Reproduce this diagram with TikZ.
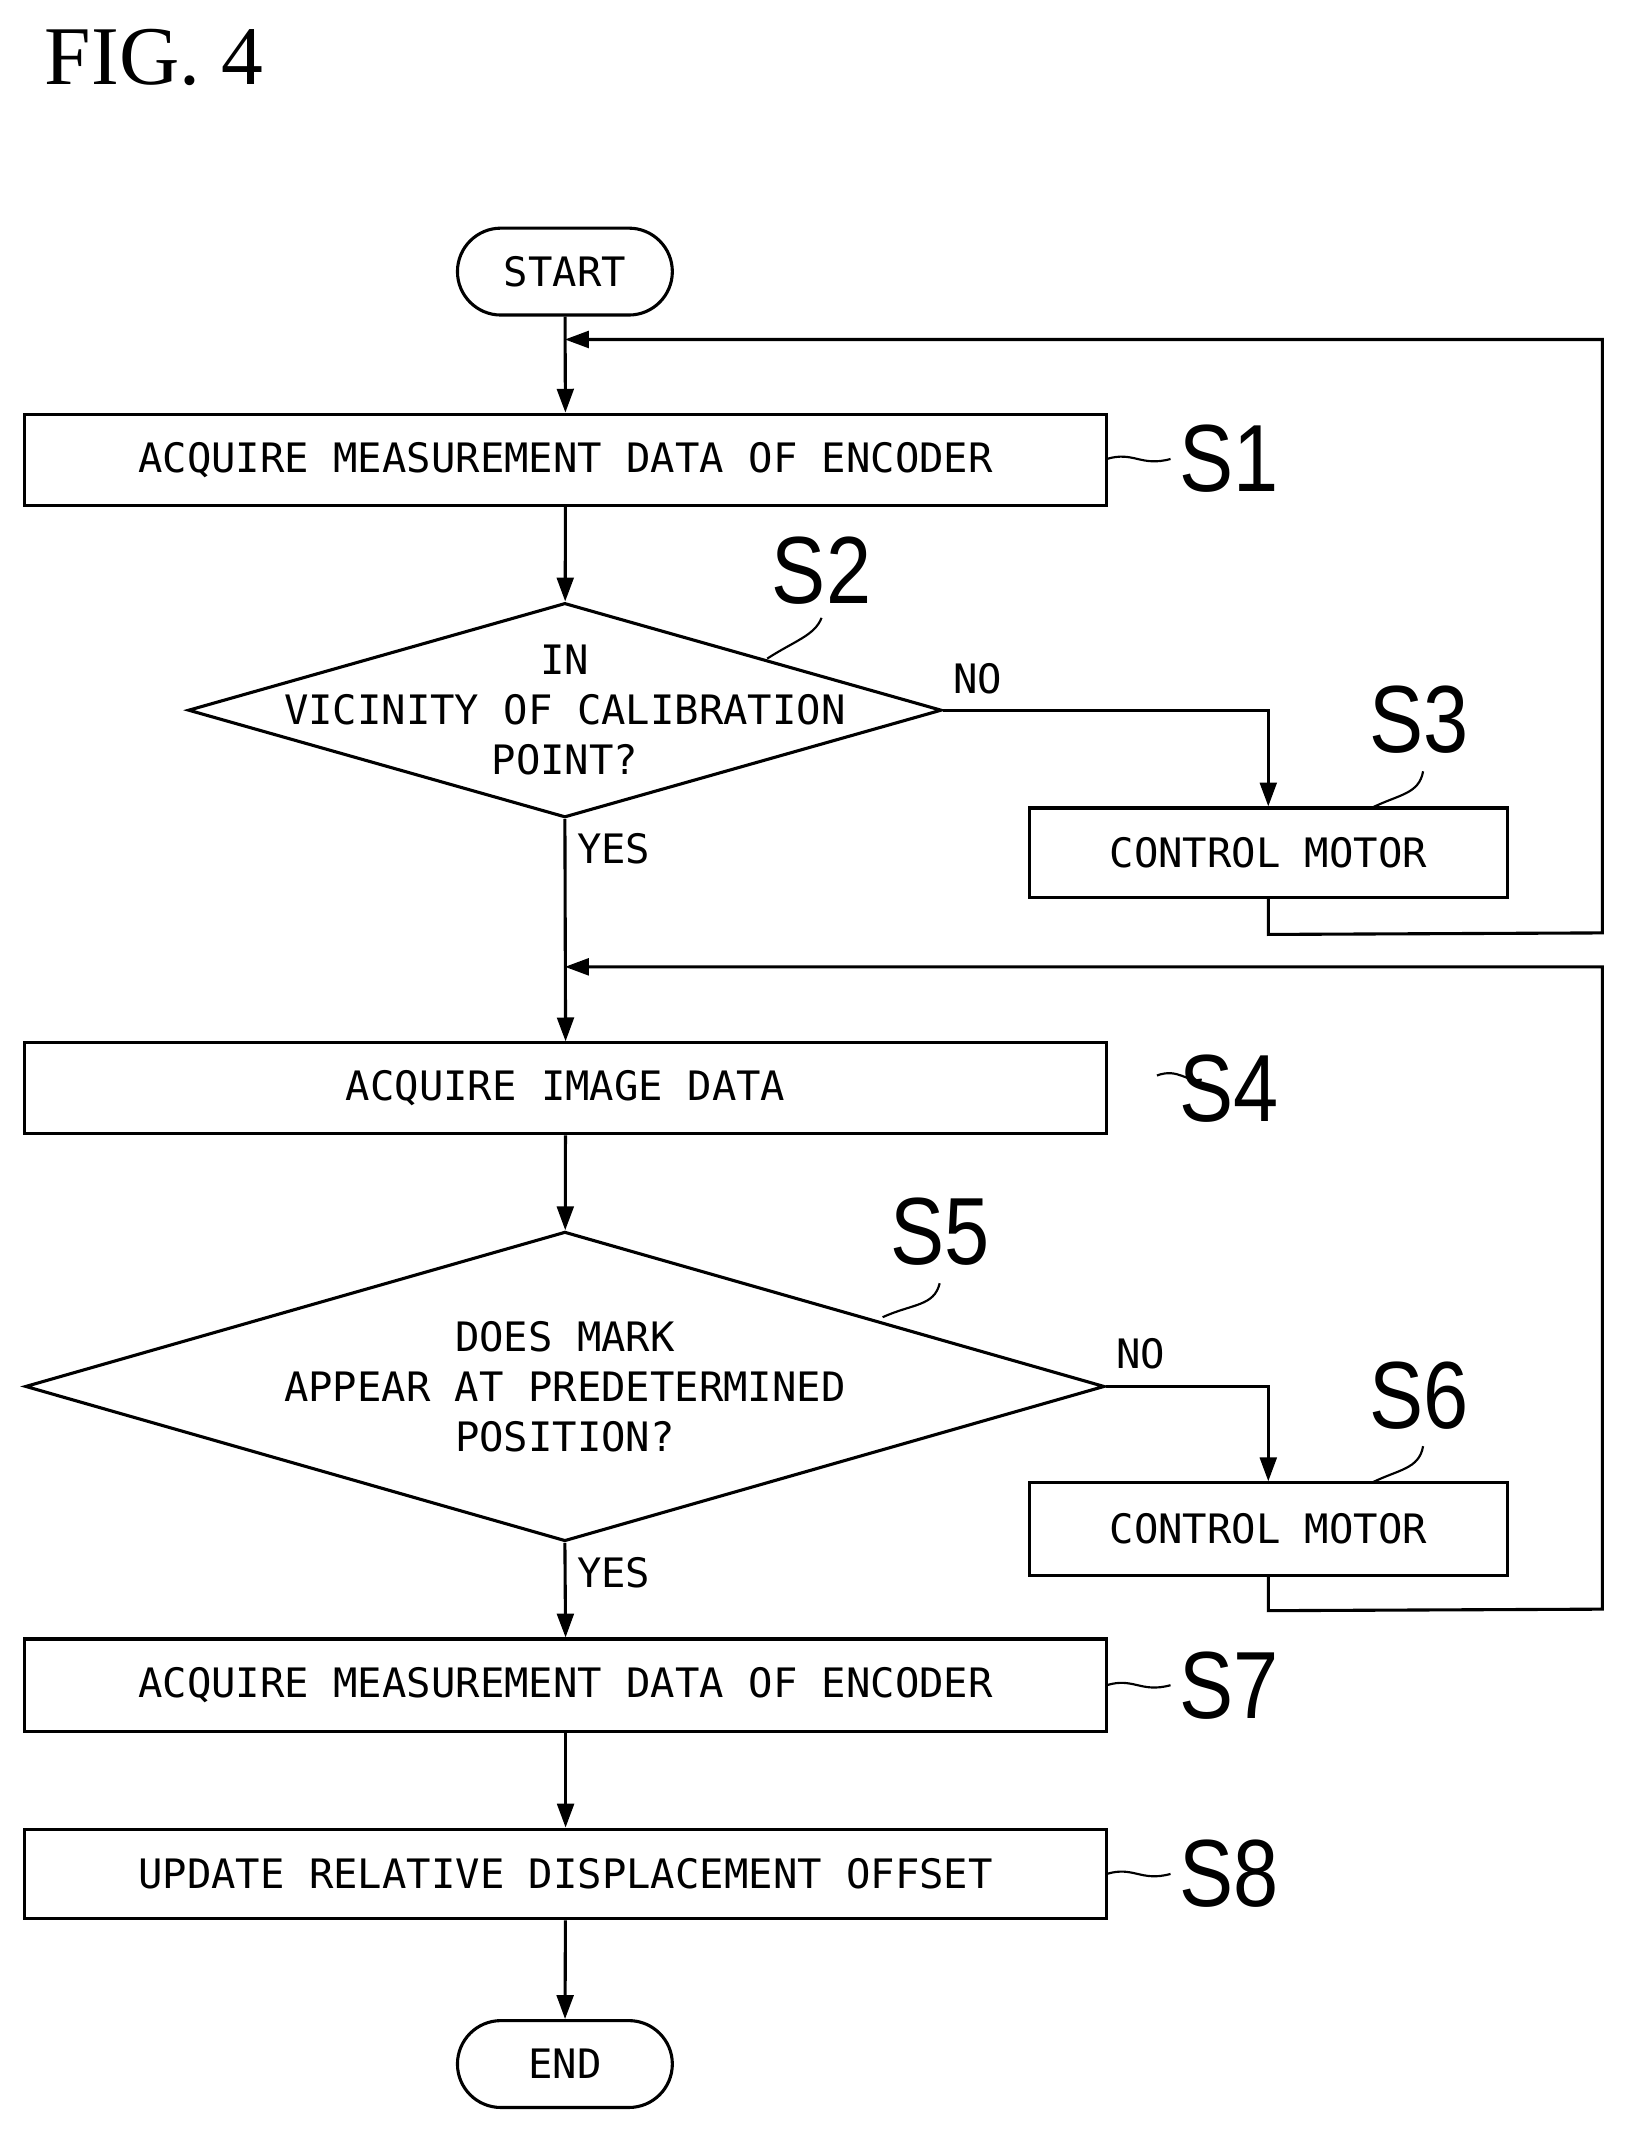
\documentclass[tikz,border=0pt]{standalone}
\usepackage{fontspec}
\setmainfont{Liberation Serif}
\newfontfamily\mono{DejaVu Sans Mono}
\newfontfamily\lab{Liberation Sans}
\usetikzlibrary{shapes.geometric,shapes.misc,arrows.meta}
\begin{document}
\begin{tikzpicture}[x=0.02cm,y=-0.02cm,line width=1.3pt,
  box/.style={draw,rectangle,inner sep=0pt,font=\mono\fontsize{17}{20}\selectfont},
  term/.style={draw,rounded rectangle,minimum width=3.4cm,minimum height=1.28cm,font=\mono\fontsize{17}{20}\selectfont},
  dia/.style={draw,diamond,inner sep=0pt,align=center},
  dt/.style={font=\mono\fontsize{17}{21}\selectfont,align=center},
  sl/.style={font=\lab\fontsize{40}{40}\selectfont,xscale=0.85},
  yn/.style={font=\mono\fontsize{17}{20}\selectfont},
  arr/.style={-{Triangle[length=10pt,width=7pt]}},
  ld/.style={line width=0.9pt}]
\useasboundingbox (0,0) rectangle (1200,1573);
\node[font=\fontsize{35}{35}\selectfont,anchor=west] (fig) at (26,42) {FIG. 4};
\node[term] (start) at (416,200) {START};
\node[box,minimum width=15.94cm,minimum height=1.34cm] (s1) at (416.5,338.5) {ACQUIRE\ MEASUREMENT\ DATA\ OF\ ENCODER};
\node[dia,minimum width=11.1cm,minimum height=3.16cm] (s2) at (416,523) {};
\node[dt] (s2t) at (416,523) {IN\\VICINITY OF CALIBRATION\\POINT?};
\node[box,minimum width=7.04cm,minimum height=1.32cm] (s3) at (934,628) {CONTROL\ MOTOR};
\node[box,minimum width=15.94cm,minimum height=1.34cm] (s4) at (416.5,801.5) {ACQUIRE\ IMAGE\ DATA};
\node[dia,minimum width=15.9cm,minimum height=4.56cm] (s5) at (416,1021) {};
\node[dt] (s5t) at (416,1021) {DOES MARK\\APPEAR AT PREDETERMINED\\POSITION?};
\node[box,minimum width=7.04cm,minimum height=1.36cm] (s6) at (934,1126) {CONTROL\ MOTOR};
\node[box,minimum width=15.94cm,minimum height=1.36cm] (s7) at (416.5,1241) {ACQUIRE\ MEASUREMENT\ DATA\ OF\ ENCODER};
\node[box,minimum width=15.94cm,minimum height=1.32cm] (s8) at (416.5,1380) {UPDATE\ RELATIVE\ DISPLACEMENT\ OFFSET};
\node[term] (end) at (416,1520) {END};
\node[sl] (l1) at (905,338) {S1};
\node[sl] (l2) at (605,420) {S2};
\node[sl] (l3) at (1045,530) {S3};
\node[sl] (l4) at (905,802) {S4};
\node[sl] (l5) at (692,907) {S5};
\node[sl] (l6) at (1045,1028) {S6};
\node[sl] (l7) at (905,1241) {S7};
\node[sl] (l8) at (905,1380) {S8};
\node[yn] (no1) at (720,500) {NO};
\node[yn] (yes1) at (452,625) {YES};
\node[yn] (no2) at (840,997) {NO};
\node[yn] (yes2) at (452,1158) {YES};
\foreach \y in {338,1241,1380}{\draw[ld] (815,\y) .. controls (835,\y-6) and (840,\y+6) .. (862,\y);}
\draw[ld] (852,792) .. controls (868,786) and (875,798) .. (885,795);
\draw[ld] (565,485) .. controls (585,472) and (600,468) .. (605,455);
\draw[ld] (650,970) .. controls (672,960) and (688,962) .. (692,945);
\draw[ld] (1010,595) .. controls (1030,585) and (1045,585) .. (1048,568);
\draw[ld] (1010,1092) .. controls (1030,1082) and (1045,1082) .. (1048,1065);
\coordinate (j1) at (416,250);
\coordinate (j2) at (416,712);
\draw[arr] (start) -- (s1);
\draw[arr] (s1) -- (s2);
\draw[arr] (s2.east) -| (s3.north);
\draw[arr] (s3.south) -- ++(0,26) -- (1180,687) -- (1180,250) -- (j1);
\draw[arr] (s2.south) -- (s4.north);
\draw[arr] (s4) -- (s5);
\draw[arr] (s5.east) -| (s6.north);
\draw[arr] (s6.south) -- ++(0,25) -- (1180,1185) -- (1180,712) -- (j2);
\draw[arr] (s5.south) -- (s7.north);
\draw[arr] (s7) -- (s8);
\draw[arr] (s8) -- (end);
\end{tikzpicture}
\end{document}
